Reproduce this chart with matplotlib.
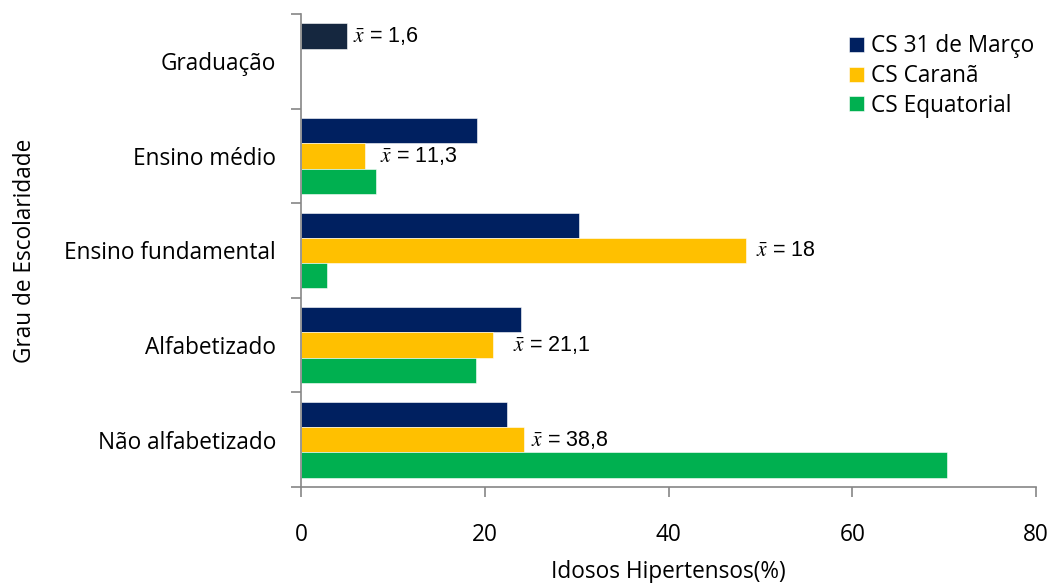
import matplotlib
matplotlib.use("Agg")
import matplotlib.pyplot as plt
import numpy as np
from matplotlib.ticker import FixedLocator

plt.rcParams['font.family'] = ['Open Sans', 'DejaVu Sans']
plt.rcParams['mathtext.fontset'] = 'stix'

categories = ["Não alfabetizado", "Alfabetizado", "Ensino fundamental",
              "Ensino médio", "Graduação"]
series_names = ["CS 31 de Março", "CS Caranã", "CS Equatorial"]
marco = [22.4, 23.9, 30.2, 19.1, 5.0]
carana = [24.3, 20.9, 48.4, 7.0, 0.0]
equatorial = [70.3, 19.0, 2.8, 8.2, 0.0]
mean_labels = ["38,8", "21,1", "18", "11,3", "1,6"]
x_ticks = [0, 20, 40, 60, 80]

colors = ["#002060", "#FFC000", "#00B050"]
grad_color = "#15273F"

fs = 16.3

fig = plt.figure(figsize=(10.53, 5.83), dpi=100)
ax = fig.add_axes([0.2859, 0.1647, 0.6980, 0.8113])

y = np.arange(len(categories))
h = 0.267
offsets = [h, 0.0, -h]
for vals, off, col, name in zip([marco, carana, equatorial], offsets, colors, series_names):
    bar_colors = [col] * len(vals)
    if vals is marco:
        bar_colors[-1] = grad_color
    ax.barh(y + off, vals, height=h, color=bar_colors, label=name,
            edgecolor='white', linewidth=0.4)

# mean annotation next to the last visible bar of each group
label_pad = [7, 20, 10, 15, 6]
for i, txt in enumerate(mean_labels):
    if carana[i] > 0:
        xv, yv = carana[i], y[i]
    else:
        xv, yv = marco[i], y[i] + h
    ax.annotate(r"$\bar{x}$ = " + txt, xy=(xv, yv), xytext=(label_pad[i] * 0.72, 0),
                textcoords='offset points', va='center', ha='left',
                fontsize=15.5, family=['Liberation Sans'])

ax.set_xlim(0, 80)
ax.set_ylim(-0.5, len(categories) - 0.5)
ax.set_xticks(x_ticks)
ax.set_xticklabels([str(t) for t in x_ticks], fontsize=fs)
ax.set_yticks(y)
ax.set_yticklabels(categories, fontsize=fs)
ax.yaxis.set_minor_locator(FixedLocator(np.arange(-0.5, len(categories), 1.0)))

for s in ['top', 'right']:
    ax.spines[s].set_visible(False)
for s in ['left', 'bottom']:
    ax.spines[s].set_color('#868686')
    ax.spines[s].set_linewidth(1.2)

ax.tick_params(axis='y', which='major', length=0, pad=18)
ax.tick_params(axis='x', which='major', length=7, color='#868686', width=1.2, pad=19)
ax.tick_params(axis='y', which='minor', length=7, color='#868686', width=1.2)

ax.set_xlabel("Idosos Hipertensos(%)", fontsize=fs, labelpad=9)
ax.set_ylabel("Grau de Escolaridade", fontsize=fs, labelpad=20)

handles, labels = ax.get_legend_handles_labels()
leg = ax.legend(handles, labels, loc='upper right', bbox_to_anchor=(1.025, 1.0),
                frameon=False, fontsize=fs, handlelength=0.65, handleheight=0.65,
                handletextpad=0.3, labelspacing=0.25)
for hnd, col in zip(leg.legend_handles, colors):
    hnd.set_facecolor(col)

fig.savefig("out.png", dpi=100)
